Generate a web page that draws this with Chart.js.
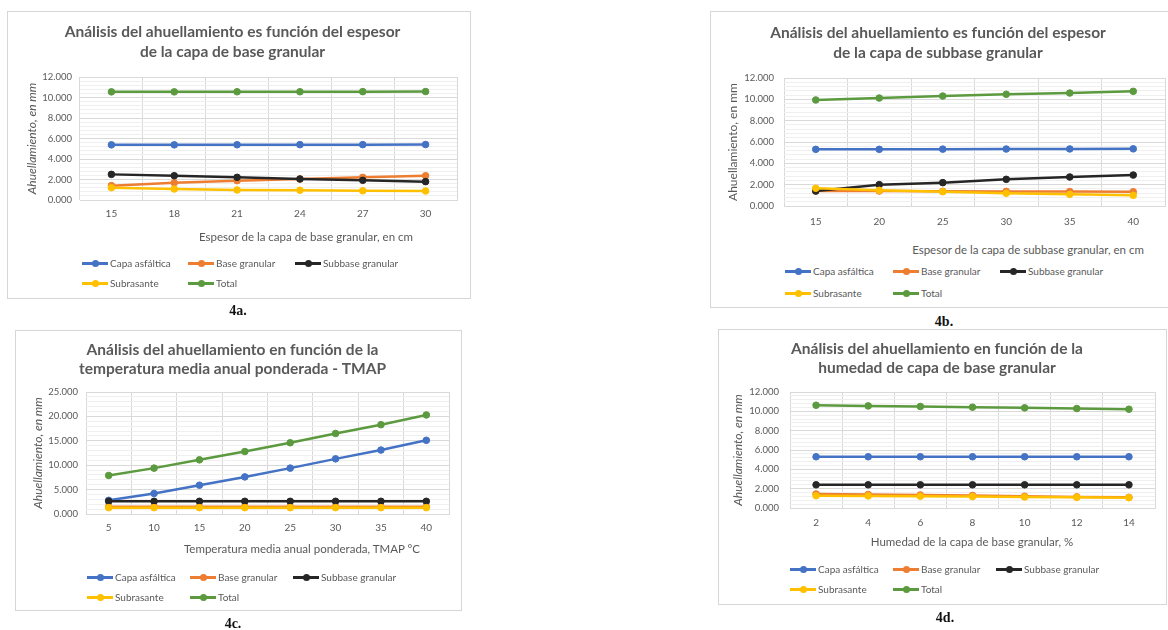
<!DOCTYPE html>
<html lang="es">
<head>
<meta charset="utf-8">
<script src="https://cdn.jsdelivr.net/npm/chart.js@4"></script>
<style>
  html, body { margin: 0; padding: 0; background: #fff; }
  body { width: 1168px; height: 630px; position: relative; overflow: hidden; font-family: Lato, "Open Sans", sans-serif; }
  .panel { position: absolute; box-sizing: border-box; border: 1px solid #d6d6d6; background: #fff; }
  .panel canvas { position: absolute; left: 0; top: 0; }
  .xtitle { position: absolute; white-space: nowrap; color: #595959; font-size: 11.5px; transform: translate(-50%, -50%); }
  .leg { position: absolute; white-space: nowrap; color: #595959; font-size: 10px; display: flex; align-items: center; transform: translateY(-50%); }
  .sw { position: relative; width: 26px; height: 8px; margin-right: 2px; }
  .sw .ln { position: absolute; left: 0; right: 0; top: 3px; height: 2.5px; }
  .sw .dt { position: absolute; left: 9.5px; top: 0.5px; width: 7px; height: 7px; border-radius: 50%; }
  .cap { position: absolute; font-family: "Liberation Serif", "DejaVu Serif", serif; font-weight: bold; font-size: 14px; color: #111; transform: translate(-50%, -50%); }
</style>
</head>
<body>
<script>
// Series shared by the four charts
const seriesNames = ['Capa asfáltica', 'Base granular', 'Subbase granular', 'Subrasante', 'Total'];
const seriesColors = ['#4472C4', '#ED7D31', '#262626', '#FFC000', '#5B9A3F'];

// 4a – espesor de la capa de base granular (cm)
const espesorBase = ['15', '18', '21', '24', '27', '30'];
const aCapa     = [5.38, 5.38, 5.39, 5.40, 5.40, 5.41];
const aBase     = [1.40, 1.68, 1.88, 2.05, 2.21, 2.37];
const aSubbase  = [2.50, 2.37, 2.21, 2.05, 1.92, 1.79];
const aSubras   = [1.20, 1.07, 0.98, 0.95, 0.90, 0.88];
const aTotal    = [10.55, 10.55, 10.56, 10.56, 10.57, 10.58];

// 4b – espesor de la capa de subbase granular (cm)
const espesorSubbase = ['15', '20', '25', '30', '35', '40'];
const bCapa     = [5.31, 5.31, 5.33, 5.34, 5.35, 5.36];
const bBase     = [1.40, 1.40, 1.38, 1.37, 1.36, 1.34];
const bSubbase  = [1.40, 2.00, 2.19, 2.50, 2.72, 2.90];
const bSubras   = [1.66, 1.47, 1.34, 1.19, 1.09, 1.00];
const bTotal    = [9.94, 10.12, 10.31, 10.47, 10.59, 10.75];

// 4c – temperatura media anual ponderada (°C)
const tmap = ['5', '10', '15', '20', '25', '30', '35', '40'];
const cCapa     = [2.8, 4.2, 5.9, 7.6, 9.4, 11.3, 13.1, 15.1];
const cBase     = [1.5, 1.5, 1.5, 1.5, 1.5, 1.5, 1.5, 1.5];
const cSubbase  = [2.6, 2.6, 2.6, 2.6, 2.6, 2.6, 2.6, 2.6];
const cSubras   = [1.3, 1.3, 1.3, 1.3, 1.3, 1.3, 1.3, 1.3];
const cTotal    = [7.9, 9.4, 11.1, 12.8, 14.6, 16.5, 18.3, 20.3];

// 4d – humedad de la capa de base granular (%)
const humedad = ['2', '4', '6', '8', '10', '12', '14'];
const dCapa     = [5.30, 5.30, 5.30, 5.30, 5.30, 5.30, 5.30];
const dBase     = [1.45, 1.40, 1.35, 1.30, 1.22, 1.15, 1.10];
const dSubbase  = [2.40, 2.40, 2.40, 2.40, 2.40, 2.40, 2.40];
const dSubras   = [1.27, 1.25, 1.22, 1.18, 1.14, 1.10, 1.06];
const dTotal    = [10.63, 10.56, 10.50, 10.43, 10.36, 10.29, 10.22];

// Y axis tick settings
const yMaxA = 12, yMaxB = 12, yMaxC = 25, yMaxD = 12;
const yMajorA = 2, yMajorB = 2, yMajorC = 5, yMajorD = 2;

Chart.defaults.font.family = 'Lato, "Open Sans", sans-serif';
Chart.defaults.color = '#595959';

const GRID_MAJOR = '#d9d9d9';
const GRID_MINOR = '#efefef';

function isMajor(v, step) {
  const r = v / step;
  return Math.abs(r - Math.round(r)) < 1e-6;
}

function buildPanel(p) {
  const panel = document.createElement('div');
  panel.className = 'panel';
  panel.style.left = p.box.x + 'px';
  panel.style.top = p.box.y + 'px';
  panel.style.width = p.box.w + 'px';
  panel.style.height = p.box.h + 'px';
  document.body.appendChild(panel);

  const ox = p.box.x + 1, oy = p.box.y + 1;
  const cw = p.box.w - 2;
  const xAxisH = 30;
  const ch = p.plot.b - oy + xAxisH;

  const canvas = document.createElement('canvas');
  canvas.width = cw; canvas.height = ch;
  canvas.style.width = cw + 'px'; canvas.style.height = ch + 'px';
  panel.appendChild(canvas);

  const lh = p.titleLH;
  const padTop = p.titleY1 - lh / 2 - oy;
  const padBottom = p.plot.t - (oy + padTop + 2 * lh);
  const yAxisW = p.plot.l - ox;
  const yTitleFont = 12;
  const yTitlePad = p.yTitleX - ox - (yTitleFont * 1.2) / 2;
  const xTickFont = 10;
  const xTickPad = p.xLabelY - p.plot.b - (xTickFont * 1.2) / 2;
  const minor = p.major / 5;

  const datasets = p.series.map((vals, i) => ({
    label: seriesNames[i],
    data: vals,
    borderColor: seriesColors[i],
    backgroundColor: seriesColors[i],
    pointBackgroundColor: seriesColors[i],
    pointBorderColor: seriesColors[i],
    borderWidth: 2.5,
    pointRadius: 3.3,
    pointBorderWidth: 1,
    tension: 0,
    order: 5 - i
  }));

  new Chart(canvas, {
    type: 'line',
    data: { labels: p.labels, datasets },
    options: {
      responsive: false,
      animation: false,
      layout: { padding: { left: 0, top: 0, bottom: 0, right: ox + cw - p.plot.r } },
      plugins: {
        legend: { display: false },
        tooltip: { enabled: false },
        title: {
          display: true,
          text: p.title,
          color: '#595959',
          font: { size: 15.5, weight: 'bold', lineHeight: lh + 'px' },
          padding: { top: padTop, bottom: padBottom }
        }
      },
      scales: {
        x: {
          offset: true,
          grid: { offset: true, color: GRID_MAJOR, drawTicks: false },
          border: { color: GRID_MAJOR },
          ticks: { color: '#595959', font: { size: xTickFont }, padding: xTickPad, maxRotation: 0 },
          afterFit: s => { s.height = xAxisH; }
        },
        y: {
          min: 0,
          max: p.yMax,
          grid: {
            drawTicks: false,
            color: c => isMajor(c.tick.value, p.major) ? GRID_MAJOR : GRID_MINOR
          },
          border: { display: false },
          ticks: {
            stepSize: minor,
            autoSkip: false,
            color: '#595959',
            font: { size: 9.5 },
            padding: p.plot.l - p.yTickRight,
            callback: v => isMajor(v, p.major) ? v.toFixed(3) : ''
          },
          title: {
            display: true,
            text: 'Ahuellamiento, en mm',
            color: '#595959',
            font: { size: yTitleFont, style: p.yItalic ? 'italic' : 'normal' },
            padding: { top: yTitlePad, bottom: 0 }
          },
          afterFit: s => { s.width = yAxisW; }
        }
      }
    }
  });

  // x axis caption
  const xt = document.createElement('div');
  xt.className = 'xtitle';
  xt.textContent = p.xTitle;
  xt.style.left = (p.xTitlePos.cx - p.box.x - 1) + 'px';
  xt.style.top = (p.xTitlePos.y - p.box.y - 1) + 'px';
  panel.appendChild(xt);

  // legend built from the datasets, three per row
  datasets.forEach((ds, i) => {
    const item = document.createElement('div');
    item.className = 'leg';
    item.style.left = (p.legend.cols[i % 3] - p.box.x - 1) + 'px';
    item.style.top = (p.legend.rows[Math.floor(i / 3)] - p.box.y - 1) + 'px';
    const sw = document.createElement('span');
    sw.className = 'sw';
    const ln = document.createElement('span'); ln.className = 'ln'; ln.style.background = ds.borderColor;
    const dt = document.createElement('span'); dt.className = 'dt'; dt.style.background = ds.borderColor;
    sw.appendChild(ln); sw.appendChild(dt);
    const tx = document.createElement('span');
    tx.textContent = ds.label;
    item.appendChild(sw); item.appendChild(tx);
    panel.appendChild(item);
  });

  const cap = document.createElement('div');
  cap.className = 'cap';
  cap.textContent = p.caption.text;
  cap.style.left = p.caption.cx + 'px';
  cap.style.top = p.caption.y + 'px';
  document.body.appendChild(cap);
}

buildPanel({
  box: { x: 7, y: 11, w: 464, h: 288 },
  plot: { l: 80, t: 77, r: 457, b: 200 },
  title: ['Análisis del ahuellamiento es función del espesor', 'de la capa de base granular'],
  titleY1: 32, titleLH: 20,
  yTitleX: 32, yTickRight: 72, yItalic: true,
  xLabelY: 214,
  yMax: yMaxA, major: yMajorA,
  labels: espesorBase,
  series: [aCapa, aBase, aSubbase, aSubras, aTotal],
  xTitle: 'Espesor de la capa de base granular, en cm',
  xTitlePos: { cx: 306, y: 236 },
  legend: { cols: [82, 188, 295], rows: [263, 283] },
  caption: { text: '4a.', cx: 238, y: 311 }
});

buildPanel({
  box: { x: 710, y: 11, w: 462, h: 297 },
  plot: { l: 784, t: 78, r: 1165, b: 206 },
  title: ['Análisis del ahuellamiento es función del espesor', 'de la capa de subbase granular'],
  titleY1: 33, titleLH: 20,
  yTitleX: 733, yTickRight: 774, yItalic: false,
  xLabelY: 222,
  yMax: yMaxB, major: yMajorB,
  labels: espesorSubbase,
  series: [bCapa, bBase, bSubbase, bSubras, bTotal],
  xTitle: 'Espesor de la capa de subbase granular, en cm',
  xTitlePos: { cx: 1028, y: 249 },
  legend: { cols: [785, 893, 1000], rows: [271, 293] },
  caption: { text: '4b.', cx: 944, y: 322 }
});

buildPanel({
  box: { x: 15, y: 330, w: 447, h: 281 },
  plot: { l: 86, t: 392, r: 449, b: 514 },
  title: ['Análisis del ahuellamiento en función de la', 'temperatura media anual ponderada - TMAP'],
  titleY1: 350, titleLH: 19,
  yTitleX: 38, yTickRight: 78, yItalic: true,
  xLabelY: 528,
  yMax: yMaxC, major: yMajorC,
  labels: tmap,
  series: [cCapa, cBase, cSubbase, cSubras, cTotal],
  xTitle: 'Temperatura media anual ponderada, TMAP °C',
  xTitlePos: { cx: 302, y: 548 },
  legend: { cols: [87, 190, 293], rows: [577, 597] },
  caption: { text: '4c.', cx: 233, y: 624 }
});

buildPanel({
  box: { x: 718, y: 329, w: 449, h: 276 },
  plot: { l: 790, t: 392, r: 1155, b: 508 },
  title: ['Análisis del ahuellamiento en función de la', 'humedad de capa de base granular'],
  titleY1: 349, titleLH: 19,
  yTitleX: 738, yTickRight: 779, yItalic: true,
  xLabelY: 523,
  yMax: yMaxD, major: yMajorD,
  labels: humedad,
  series: [dCapa, dBase, dSubbase, dSubras, dTotal],
  xTitle: 'Humedad de la capa de base granular, %',
  xTitlePos: { cx: 972, y: 541 },
  legend: { cols: [790, 893, 996], rows: [569, 589] },
  caption: { text: '4d.', cx: 945, y: 618 }
});
</script>
</body>
</html>
